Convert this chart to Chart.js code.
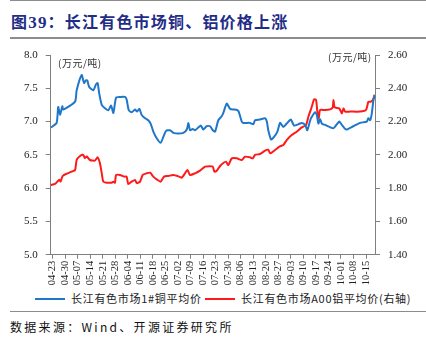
<!DOCTYPE html>
<html>
<head>
<meta charset="utf-8">
<script src="https://cdn.jsdelivr.net/npm/chart.js@4"></script>
<style>
  html, body { margin: 0; padding: 0; background: #fff; }
  body { width: 426px; height: 343px; position: relative; overflow: hidden; }
  #title { position: absolute; left: 11px; top: 9px; font: bold 16px "Noto Sans CJK SC", sans-serif; color: #1f2d86; letter-spacing: 1.2px; }
  #title .num { font-family: "Liberation Serif", serif; font-size: 17px; }
  .rule { position: absolute; left: 10px; width: 416px; background: #8c8c8c; }
  #chartBox { position: absolute; left: 0; top: 40px; width: 426px; height: 250px; }
  .unit { position: absolute; font: 10px "Noto Sans CJK SC", sans-serif; color: #333; letter-spacing: 0.5px; }
  #legend { position: absolute; top: 290px; left: 0; width: 426px; font: 11px "Noto Sans CJK SC", sans-serif; color: #222; }
  .lg { position: absolute; top: 0; white-space: nowrap; letter-spacing: 0.7px; }
  .lg i { display: inline-block; width: 30px; height: 2px; vertical-align: middle; margin-right: 6px; position: relative; top: -1px; }
  #source { position: absolute; left: 10px; top: 318px; font: 12px "Noto Sans CJK SC", sans-serif; color: #111; letter-spacing: 2.3px; }
</style>
</head>
<body>
<div class="rule" style="top:0;height:1px;"></div>
<div id="title">图<span class="num">39</span>：长江有色市场铜、铝价格上涨</div>
<div class="rule" style="top:37px;height:2px;"></div>
<div id="chartBox"><canvas id="chart"></canvas></div>
<div class="unit" style="left:58px;top:55px;">(万元/吨)</div>
<div class="unit" style="left:328px;top:49px;">(万元/吨)</div>
<div id="legend">
  <span class="lg" style="left:35px;"><i style="background:#1f77c9"></i>长江有色市场1#铜平均价</span>
  <span class="lg" style="left:205px;"><i style="background:#ff1a1a"></i>长江有色市场A00铝平均价(右轴)</span>
</div>
<div class="rule" style="top:311px;height:1px;"></div>
<div id="source">数据来源：Wind、开源证券研究所</div>

<script>
// x axis: days since 04-23, one tick per week
const tickDays = [0, 7, 14, 21, 28, 35, 42, 49, 56, 63, 70, 77, 84, 91, 98, 105, 112, 119, 126, 133, 140, 147, 154, 161, 168, 175];
const tickLabels = ["04-23", "04-30", "05-07", "05-14", "05-21", "05-28", "06-04", "06-11", "06-18", "06-25",
  "07-02", "07-09", "07-16", "07-23", "07-30", "08-06", "08-13", "08-20", "08-27", "09-03",
  "09-10", "09-17", "09-24", "10-01", "10-08", "10-15"];

// 长江有色市场1#铜平均价 (万元/吨, left axis)
const copperDays = [-1, 2.2, 3.1, 4.1, 5.4, 5.9, 12.5, 13.4, 16.2, 17.5, 18.6, 19.3, 20.4, 22.7, 24.2, 25.1, 26, 27.4,
  29.2, 31.1, 32.6, 33.9, 35.4, 37.6, 40.4, 41.3, 42.5, 44.1, 46, 47.1, 48.4, 49.7, 51.6, 53.4, 54.7, 56.2,
  58.1, 60.3, 61.8, 63.3, 65.5, 67.4, 70.2, 73, 74.9, 75.8, 76.7, 78.2, 79.5, 81.3, 82.8, 84.1, 86, 87.9,
  89.4, 90.7, 92.5, 94.4, 95.3, 97.2, 99.1, 101.8, 103.7, 105.6, 106.5, 110.2, 112.1, 113, 115.8, 118.6,
  119.6, 120.4, 122, 123.6, 125.5, 127, 128.8, 130.7, 133, 134.8, 137.2, 139.1, 141, 142.2, 144.1, 146.5,
  147.5, 148.4, 149.3, 150.3, 152.1, 156.8, 158.7, 160.1, 161.5, 163.9, 167.9, 171.7, 175.4, 176.3, 177.3,
  178.2, 179.1, 179.8];
const copperPrice = [6.91, 6.98, 7.22, 7.10, 7.23, 7.18, 7.30, 7.47, 7.70, 7.58, 7.62, 7.62, 7.52, 7.47, 7.56, 7.58, 7.42, 7.25,
  7.20, 7.17, 7.24, 7.13, 7.36, 7.37, 7.37, 7.33, 7.17, 7.14, 7.18, 7.15, 7.19, 7.10, 7.05, 7.02, 6.97, 6.85,
  6.75, 6.68, 6.77, 6.86, 6.87, 6.83, 6.82, 6.83, 6.88, 6.98, 6.87, 6.89, 6.87, 6.91, 6.94, 6.88, 6.93, 6.93,
  6.87, 6.85, 7.02, 7.08, 7.13, 7.27, 7.19, 7.18, 7.16, 7.00, 6.98, 6.98, 6.96, 7.02, 7.03, 7.05,
  7.00, 6.87, 6.73, 6.77, 6.85, 6.98, 6.92, 6.97, 7.03, 6.94, 6.96, 6.98, 6.95, 6.87, 7.04, 7.14,
  7.10, 6.97, 7.04, 6.97, 6.95, 6.90, 6.96, 7.00, 6.95, 6.88, 6.93, 6.98, 7.00, 7.05, 7.02,
  7.12, 7.32, 7.40];

// 长江有色市场A00铝平均价 (万元/吨, right axis)
const aluminumDays = [-1, 1.3, 2.6, 3.7, 4.4, 5.6, 7.4, 10.6, 12.5, 13.4, 15.3, 17.1, 18, 19, 20.8, 23.6, 25.1, 26.4,
  27.4, 28.3, 30.2, 33, 33.9, 34.8, 35.4, 37.6, 40, 41.3, 42.2, 44.1, 46, 47, 48.8, 50.3, 52.5, 54.4,
  56.2, 58.1, 60.3, 62.2, 64.6, 67.4, 70.7, 72.1, 73.9, 75.2, 76.7, 79.5, 82.3, 85.1, 87.5, 89.4, 90.3,
  91.6, 93.5, 95.3, 96.8, 98.1, 100, 102.8, 105.6, 107.4, 110.2, 111.7, 113, 115.8, 118.6, 120.4, 121.4,
  124.2, 126.6, 128.8, 130.7, 133.5, 136.3, 139.1, 141.5, 142.8, 144.7, 146, 147.1, 147.8, 148.6, 149.3,
  152.1, 154.9, 156.4, 156.8, 157.5, 160.1, 161.5, 162.4, 163.3, 166.1, 171.7, 175, 176.3, 177.5, 178.8, 179.8];
const aluminumPrice = [1.819, 1.825, 1.839, 1.850, 1.840, 1.873, 1.885, 1.899, 1.909, 1.969, 1.993, 2.000, 1.980, 1.990, 1.969, 1.965, 1.985, 1.949,
  1.889, 1.839, 1.833, 1.833, 1.839, 1.833, 1.879, 1.879, 1.869, 1.869, 1.825, 1.839, 1.849, 1.830, 1.839, 1.879, 1.889, 1.893,
  1.869, 1.853, 1.839, 1.869, 1.873, 1.879, 1.869, 1.863, 1.889, 1.909, 1.879, 1.889, 1.905, 1.929, 1.931, 1.929, 1.899,
  1.904, 1.933, 1.951, 1.959, 1.939, 1.979, 1.979, 1.969, 1.989, 1.985, 1.979, 2.000, 2.005, 2.025, 2.031, 2.009,
  2.029, 2.049, 2.059, 2.089, 2.119, 2.139, 2.165, 2.179, 2.229, 2.289, 2.334, 2.330, 2.260, 2.219, 2.269,
  2.269, 2.273, 2.285, 2.330, 2.285, 2.279, 2.249, 2.279, 2.260, 2.260, 2.260, 2.270, 2.319, 2.319, 2.329, 2.360];

const copperPoints = copperDays.map((d, i) => ({ x: d, y: copperPrice[i] }));
const aluminumPoints = aluminumDays.map((d, i) => ({ x: d, y: aluminumPrice[i] }));

const axisColor = "#7f7f7f";
const tickFont = { family: "Liberation Serif", size: 11 };

new Chart(document.getElementById("chart"), {
  type: "line",
  data: {
    datasets: [
      {
        label: "长江有色市场1#铜平均价",
        data: copperPoints,
        borderColor: "#1f77c9",
        borderWidth: 2,
        pointRadius: 0,
        tension: 0.2,
        yAxisID: "y"
      },
      {
        label: "长江有色市场A00铝平均价(右轴)",
        data: aluminumPoints,
        borderColor: "#ff1a1a",
        borderWidth: 2,
        pointRadius: 0,
        tension: 0.2,
        yAxisID: "y1"
      }
    ]
  },
  options: {
    responsive: true,
    maintainAspectRatio: false,
    animation: false,
    layout: { padding: { top: 15, left: 0, right: 0, bottom: 0 } },
    plugins: { legend: { display: false }, tooltip: { enabled: false } },
    scales: {
      x: {
        type: "linear",
        min: -1.1,
        max: 180,
        afterBuildTicks: scale => { scale.ticks = tickDays.map(v => ({ value: v })); },
        afterFit: scale => { scale.height = 35.3; },
        ticks: {
          autoSkip: false,
          minRotation: 90,
          maxRotation: 90,
          padding: 2,
          color: "#222",
          font: { family: "Liberation Serif", size: 10.5 },
          callback: (v, i) => tickLabels[i]
        },
        grid: { drawOnChartArea: false, color: axisColor, tickLength: 4 },
        border: { color: axisColor, width: 1 }
      },
      y: {
        position: "left",
        min: 5.0,
        max: 8.0,
        afterFit: scale => { scale.width = 50.7; },
        ticks: {
          stepSize: 0.5,
          padding: 8,
          color: "#222",
          font: tickFont,
          callback: v => v.toFixed(1)
        },
        grid: { drawOnChartArea: false, color: axisColor, tickLength: 5 },
        border: { color: axisColor, width: 1 }
      },
      y1: {
        position: "right",
        min: 1.4,
        max: 2.6,
        afterFit: scale => { scale.width = 51; },
        ticks: {
          stepSize: 0.2,
          padding: 8,
          color: "#222",
          font: tickFont,
          callback: v => v.toFixed(2)
        },
        grid: { drawOnChartArea: false, color: axisColor, tickLength: 5 },
        border: { color: axisColor, width: 1 }
      }
    }
  }
});
</script>
</body>
</html>
